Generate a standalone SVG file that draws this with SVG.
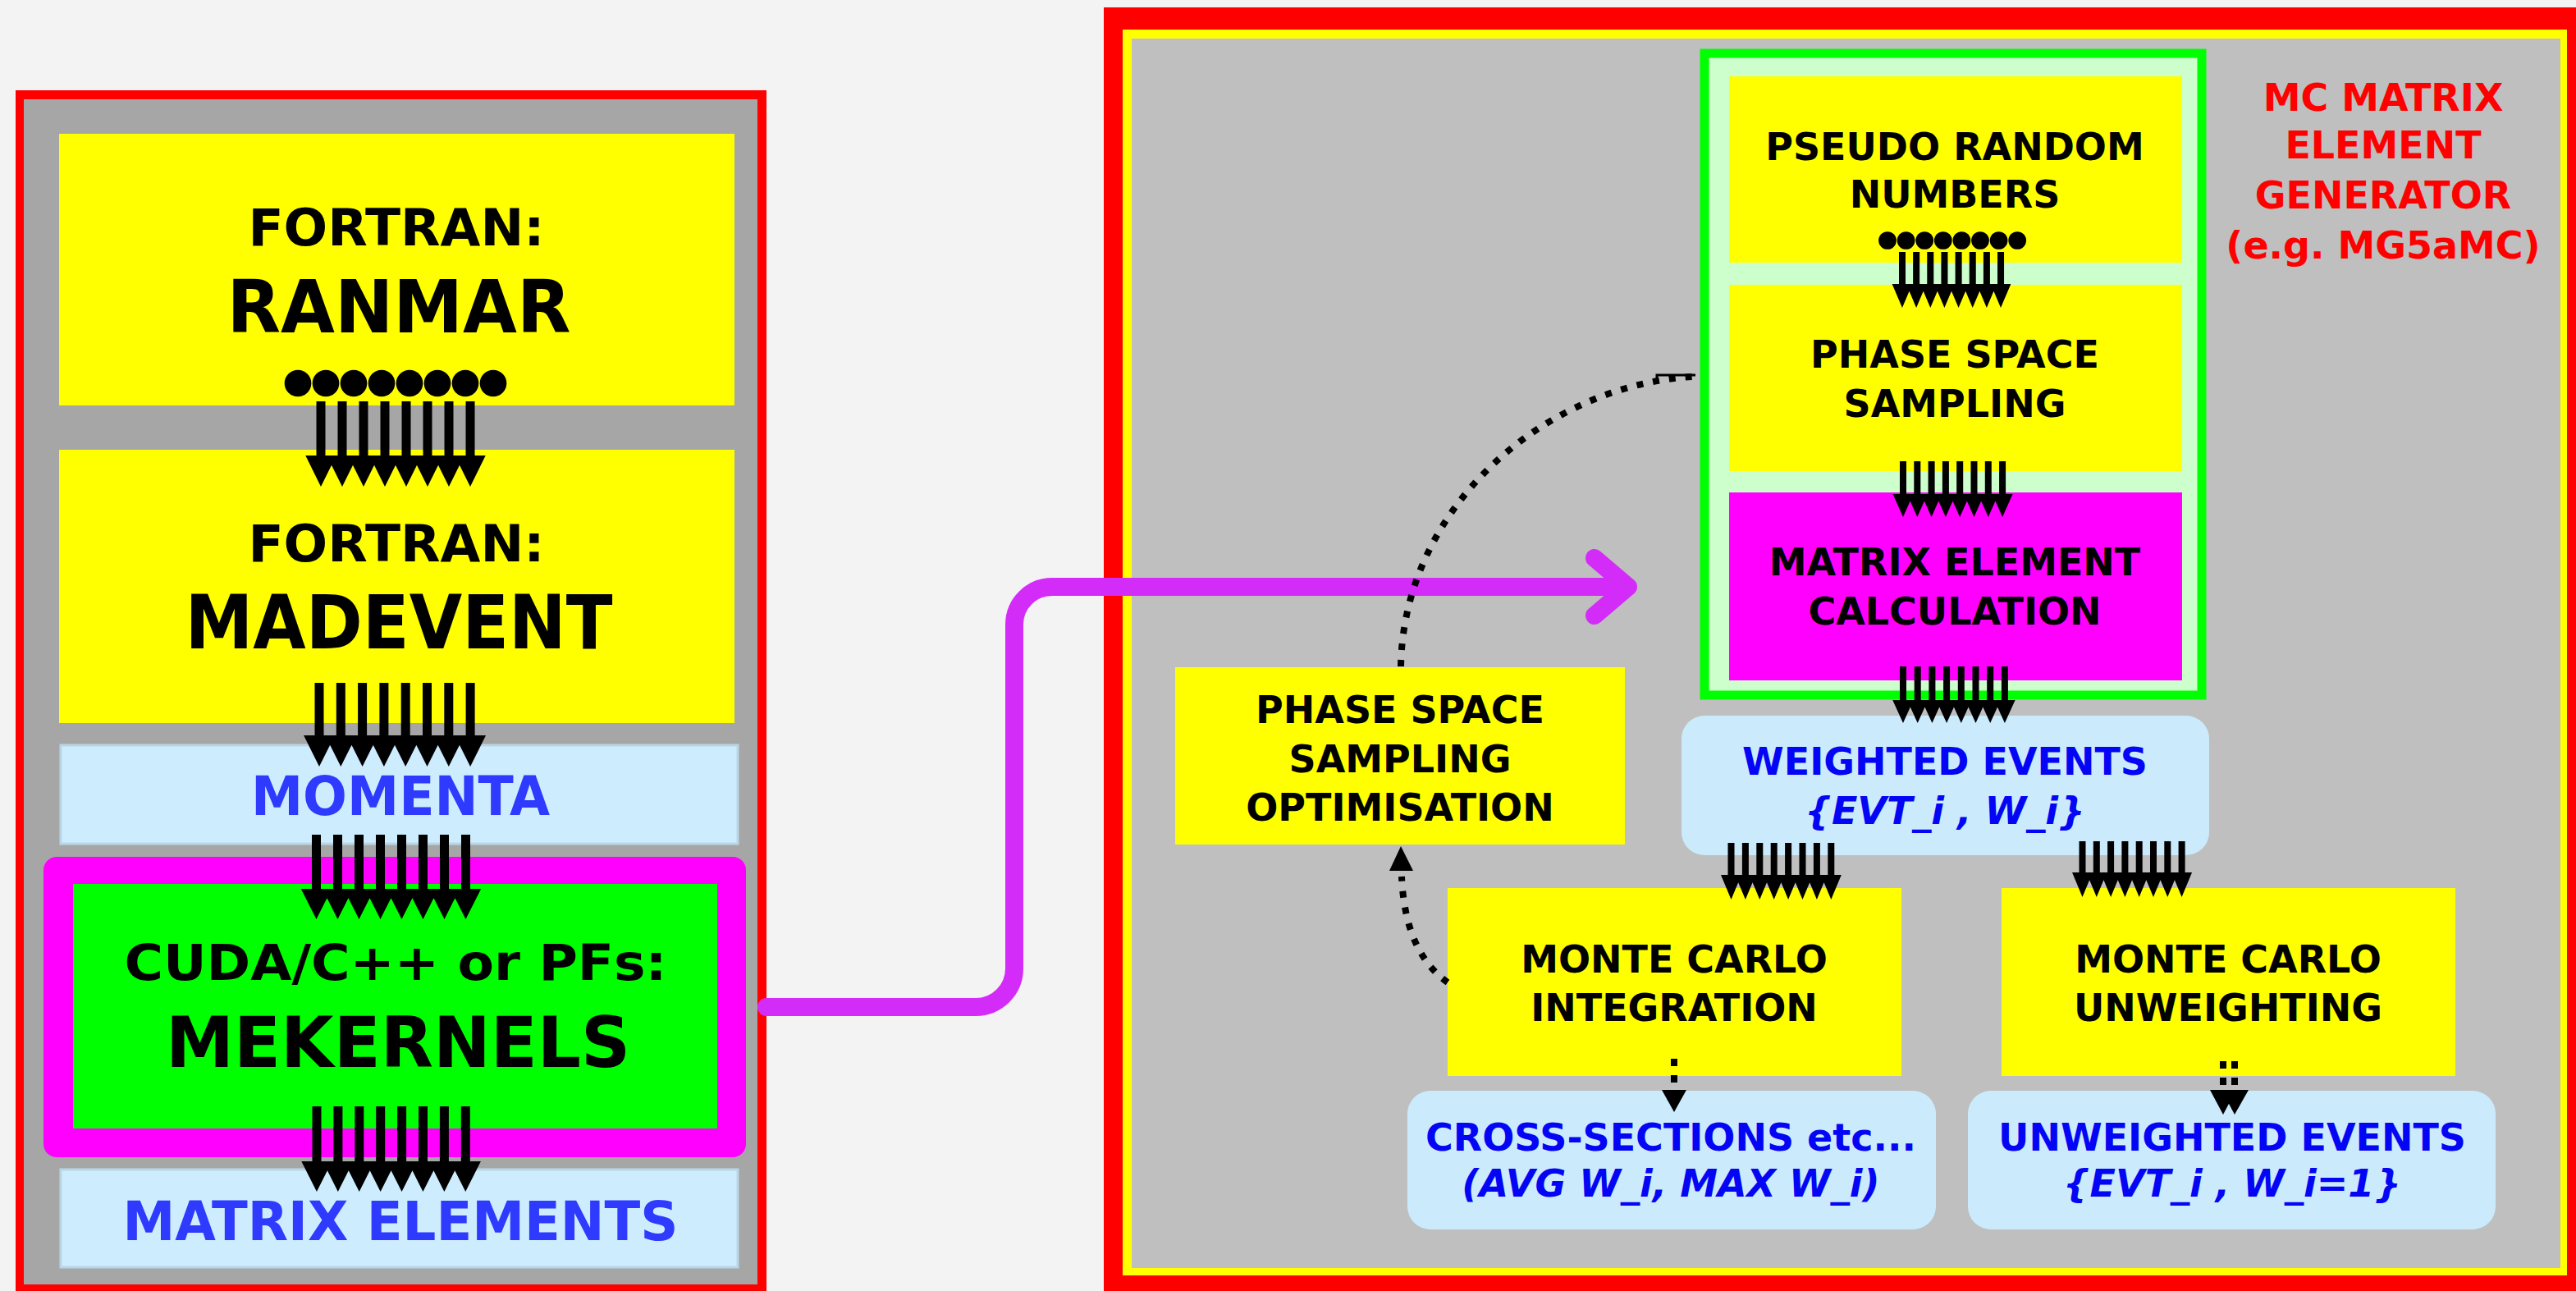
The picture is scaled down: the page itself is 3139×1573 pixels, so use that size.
<svg xmlns="http://www.w3.org/2000/svg" xmlns:xlink="http://www.w3.org/1999/xlink" width="3139" height="1573" viewBox="0 0 3139 1573">
<style>
.t{font-family:'DejaVu Sans',Verdana,sans-serif;font-weight:bold;text-anchor:middle}
.k{fill:#000}
.bl{fill:#2e3bff}
.bd{fill:#0505f5}
.rd{fill:#ff0000}
.it{font-style:italic}
.s46{font-size:46px}
.yel{fill:#ffff00}
.lb{fill:#cbebfd}
.lbs{fill:#cdedff;stroke:#b9d6e6;stroke-width:3}
.sh{stroke:#000;fill:none}
.dot{stroke:#000;stroke-width:8;fill:none;stroke-dasharray:8 12}
.dash{stroke:#000;stroke-width:8;fill:none;stroke-dasharray:9 11}
</style>
<defs>
<polygon id="heads" points="-0.22,0 8.22,0 7.5,1 7,0.306 6.5,1 6,0.306 5.5,1 5,0.306 4.5,1 4,0.306 3.5,1 3,0.306 2.5,1 2,0.306 1.5,1 1,0.306 0.5,1"/>
<g id="dots"><circle cx="0" cy="0" r="0.48"/><circle cx="1" cy="0" r="0.48"/><circle cx="2" cy="0" r="0.48"/><circle cx="3" cy="0" r="0.48"/><circle cx="4" cy="0" r="0.48"/><circle cx="5" cy="0" r="0.48"/><circle cx="6" cy="0" r="0.48"/><circle cx="7" cy="0" r="0.48"/></g>
</defs>
<rect x="0" y="0" width="3139" height="1573" fill="#f3f3f3"/>

<g id="left-panel">
<rect x="19" y="110" width="915" height="1463" fill="#ff0000"/>
<rect x="29" y="121" width="894" height="1444" fill="#a6a6a6"/>
</g>
<g id="ranmar">
<rect class="yel" x="72" y="163" width="823" height="331"/>
<text class="t k" x="483" y="299" font-size="63" textLength="361" lengthAdjust="spacingAndGlyphs">FORTRAN:</text>
<text class="t k" x="486" y="405" font-size="89" textLength="419" lengthAdjust="spacingAndGlyphs">RANMAR</text>
</g>
<g id="madevent">
<rect class="yel" x="72" y="548" width="823" height="333"/>
<text class="t k" x="483" y="684" font-size="63" textLength="361" lengthAdjust="spacingAndGlyphs">FORTRAN:</text>
<text class="t k" x="486" y="790" font-size="90" textLength="521" lengthAdjust="spacingAndGlyphs">MADEVENT</text>
</g>
<g id="momenta">
<rect class="lbs" x="74" y="908" width="825" height="120"/>
<text class="t bl" x="488" y="993" font-size="66" textLength="364" lengthAdjust="spacingAndGlyphs">MOMENTA</text>
</g>
<g id="mekernels">
<rect x="53" y="1044" width="856" height="366" rx="16" fill="#ff00ff"/>
<rect x="89" y="1077" width="785" height="298" fill="#00ff00"/>
<text class="t k" x="482" y="1194" font-size="60" textLength="661" lengthAdjust="spacingAndGlyphs">CUDA/C++ or PFs:</text>
<text class="t k" x="485" y="1300" font-size="86" textLength="566" lengthAdjust="spacingAndGlyphs">MEKERNELS</text>
</g>
<g id="matrix-elements">
<rect class="lbs" x="74" y="1425" width="825" height="119"/>
<text class="t bl" x="488" y="1511" font-size="66" textLength="677" lengthAdjust="spacingAndGlyphs">MATRIX ELEMENTS</text>
</g>

<g id="right-panel">
<rect x="1345" y="9" width="1794" height="1564" fill="#ff0000"/>
<rect x="1368" y="36" width="1760" height="1518" fill="#ffff00"/>
<rect x="1379" y="47" width="1741" height="1498" fill="#bfbfbf"/>
<text class="t rd s46" x="2904" y="135">MC MATRIX</text>
<text class="t rd s46" x="2904" y="193">ELEMENT</text>
<text class="t rd s46" x="2904" y="254">GENERATOR</text>
<text class="t rd s46" x="2904" y="315">(e.g. MG5aMC)</text>
</g>
<g id="gpu-column">
<rect x="2077" y="65" width="606" height="782" fill="#ccffcc" stroke="#00ff00" stroke-width="11"/>
</g>
<g id="pseudo-random">
<rect class="yel" x="2107" y="93" width="552" height="227"/>
<text class="t k s46" x="2382" y="195">PSEUDO RANDOM</text>
<text class="t k s46" x="2382" y="253">NUMBERS</text>
</g>
<g id="phase-space-sampling">
<rect class="yel" x="2107" y="347" width="552" height="227"/>
<text class="t k s46" x="2382" y="448">PHASE SPACE</text>
<text class="t k s46" x="2382" y="508">SAMPLING</text>
</g>
<g id="me-calculation">
<rect x="2107" y="600" width="552" height="229" fill="#ff00ff"/>
<text class="t k s46" x="2382" y="701">MATRIX ELEMENT</text>
<text class="t k s46" x="2382" y="761">CALCULATION</text>
</g>
<g id="pss-optimisation">
<rect class="yel" x="1432" y="813" width="548" height="216"/>
<text class="t k s46" x="1706" y="881">PHASE SPACE</text>
<text class="t k s46" x="1706" y="941">SAMPLING</text>
<text class="t k s46" x="1706" y="1000">OPTIMISATION</text>
</g>
<g id="weighted-events">
<rect class="lb" x="2049" y="872" width="643" height="170" rx="28"/>
<text class="t bd s46" x="2370" y="944">WEIGHTED EVENTS</text>
<text class="t bd s46 it" x="2370" y="1004">{EVT_i , W_i}</text>
</g>
<g id="mc-integration">
<rect class="yel" x="1764" y="1082" width="553" height="229"/>
<text class="t k s46" x="2040" y="1185">MONTE CARLO</text>
<text class="t k s46" x="2040" y="1244">INTEGRATION</text>
</g>
<g id="mc-unweighting">
<rect class="yel" x="2439" y="1082" width="553" height="229"/>
<text class="t k s46" x="2715" y="1185">MONTE CARLO</text>
<text class="t k s46" x="2715" y="1244">UNWEIGHTING</text>
</g>
<g id="cross-sections">
<rect class="lb" x="1715" y="1329" width="644" height="169" rx="28"/>
<text class="t bd s46" x="2036" y="1402">CROSS-SECTIONS etc...</text>
<text class="t bd s46 it" x="2036" y="1458">(AVG W_i, MAX W_i)</text>
</g>
<g id="unweighted-events">
<rect class="lb" x="2398" y="1329" width="643" height="169" rx="28"/>
<text class="t bd s46" x="2720" y="1402">UNWEIGHTED EVENTS</text>
<text class="t bd s46 it" x="2720" y="1458">{EVT_i , W_i=1}</text>
</g>

<g id="connectors">
<!-- left bundles -->
<use xlink:href="#dots" transform="translate(363 467) scale(34)"/>
<path class="sh" stroke-width="11" d="M391 489v69m26-69v69m26-69v69m26-69v69m26-69v69m26-69v69m26-69v69m26-69v69"/>
<use xlink:href="#heads" transform="translate(378 555) scale(26 38)"/>
<path class="sh" stroke-width="11" d="M389 832v67m26.3-67v67m26.3-67v67m26.3-67v67m26.3-67v67m26.3-67v67m26.3-67v67m26.3-67v67"/>
<use xlink:href="#heads" transform="translate(375.85 896) scale(26.3 38)"/>
<path class="sh" stroke-width="11" d="M385.5 1017v69m26-69v69m26-69v69m26-69v69m26-69v69m26-69v69m26-69v69m26-69v69"/>
<use xlink:href="#heads" transform="translate(372.5 1083) scale(26 37)"/>
<path class="sh" stroke-width="11" d="M386 1348v70m25.9-70v70m25.9-70v70m25.9-70v70m25.9-70v70m25.9-70v70m25.9-70v70m25.9-70v70"/>
<use xlink:href="#heads" transform="translate(373 1415) scale(25.9 37)"/>
<!-- magenta link -->
<path d="M934 1227H1189A47 47 0 0 0 1236 1180V761A46 46 0 0 1 1282 715H1984M1943 680L1984 715L1943 750" fill="none" stroke="#d42cf8" stroke-width="22" stroke-linecap="round" stroke-linejoin="round"/>
<!-- right bundles -->
<use xlink:href="#dots" transform="translate(2300 293) scale(22.6)"/>
<path class="sh" stroke-width="8" d="M2318 307v42m17.15-42v42m17.15-42v42m17.15-42v42m17.15-42v42m17.15-42v42m17.15-42v42m17.15-42v42"/>
<use xlink:href="#heads" transform="translate(2309.4 346) scale(17.15 29)"/>
<path class="sh" stroke-width="8" d="M2319 562v43m17.3-43v43m17.3-43v43m17.3-43v43m17.3-43v43m17.3-43v43m17.3-43v43m17.3-43v43"/>
<use xlink:href="#heads" transform="translate(2310.35 602) scale(17.3 28)"/>
<path class="sh" stroke-width="8" d="M2319 812v44m17.7-44v44m17.7-44v44m17.7-44v44m17.7-44v44m17.7-44v44m17.7-44v44m17.7-44v44"/>
<use xlink:href="#heads" transform="translate(2310.15 853) scale(17.7 28)"/>
<path class="sh" stroke-width="8" d="M2109.5 1027v42m17.4-42v42m17.4-42v42m17.4-42v42m17.4-42v42m17.4-42v42m17.4-42v42m17.4-42v42"/>
<use xlink:href="#heads" transform="translate(2100.8 1066) scale(17.4 30)"/>
<path class="sh" stroke-width="8" d="M2537.5 1025v41m17.3-41v41m17.3-41v41m17.3-41v41m17.3-41v41m17.3-41v41m17.3-41v41m17.3-41v41"/>
<use xlink:href="#heads" transform="translate(2528.85 1063) scale(17.3 30)"/>
<!-- dotted feedback loop -->
<path class="dot" d="M1764 1197Q1712 1160 1708 1068"/>
<polygon points="1707,1031 1722,1061 1693,1061"/>
<path class="dot" d="M1707 812C1710 620 1880 470 2062 459"/>
<path d="M2019 462V457H2066" fill="none" stroke="#000" stroke-width="3"/>
<!-- dashed outputs -->
<path class="dash" d="M2040 1290V1328"/>
<polygon points="2025,1328 2055,1328 2040,1355"/>
<path class="dash" d="M2709 1293V1328M2723 1293V1328"/>
<polygon points="2693,1328 2725,1328 2709,1358"/>
<polygon points="2707,1328 2740,1328 2723,1358"/>
</g>
</svg>
